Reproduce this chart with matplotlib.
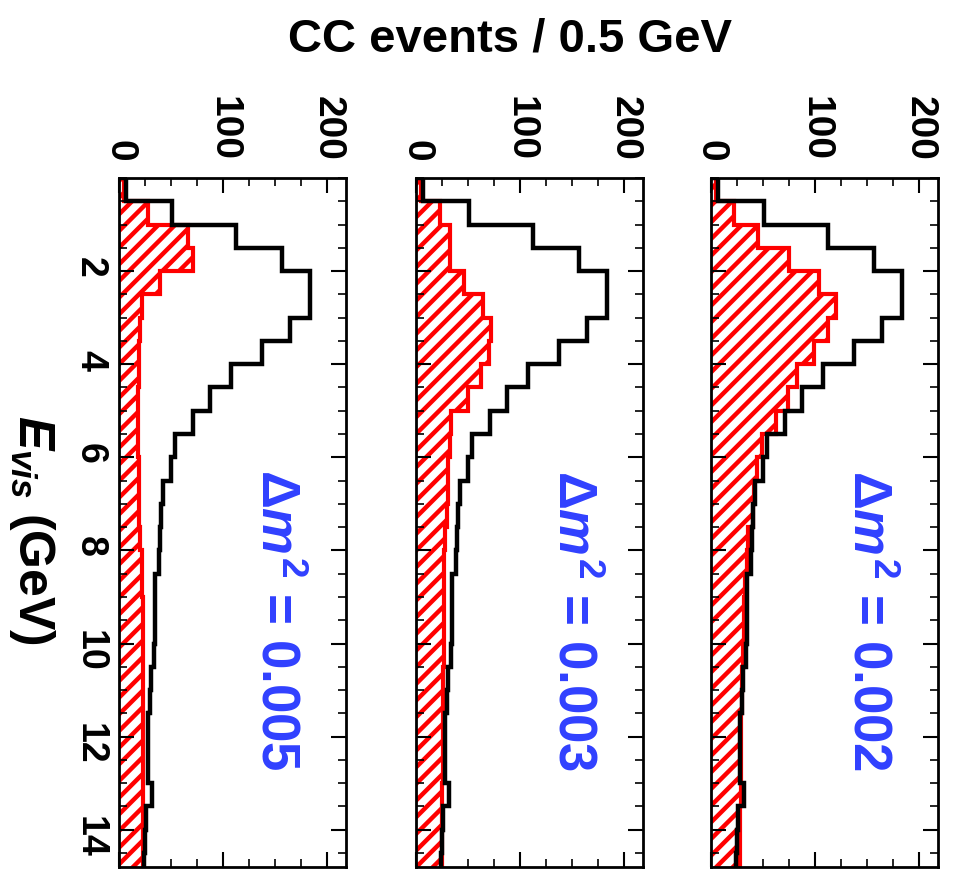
import numpy as np
import matplotlib
matplotlib.use('Agg')
import matplotlib.pyplot as plt
from matplotlib.ticker import MultipleLocator, FixedLocator

plt.rcParams['font.family'] = ['Liberation Sans', 'DejaVu Sans']
plt.rcParams['font.weight'] = 'bold'
plt.rcParams['mathtext.fontset'] = 'custom'
plt.rcParams['mathtext.rm'] = 'Liberation Sans:bold'
plt.rcParams['mathtext.it'] = 'Liberation Sans:bold:italic'
plt.rcParams['mathtext.bf'] = 'Liberation Sans:bold'
plt.rcParams['hatch.linewidth'] = 3.2

# visible energy bins, 0.5 GeV wide
e_edges = np.arange(0, 15.01, 0.5)

# expected CC events without oscillation
no_osc = [7, 51, 112, 157, 183, 183, 164, 137, 108, 87,
          71, 54, 50, 42, 40, 39, 38, 35, 35, 35,
          34, 31, 30, 28, 28, 28, 32, 26, 25, 24]

# expected CC events with oscillation, one list per dm^2
osc_005 = [5, 28, 66, 71, 39, 22, 20, 19, 19, 18,
           18, 18, 19, 19, 19, 20, 22, 22, 23, 23,
           23, 23, 23, 23, 23, 23, 23, 23, 23, 23]
osc_003 = [5, 23, 33, 33, 46, 64, 72, 70, 62, 50,
           34, 33, 31, 31, 30, 28, 27, 27, 27, 27,
           27, 26, 26, 26, 26, 26, 25, 25, 25, 25]
osc_002 = [5, 22, 45, 75, 104, 120, 112, 99, 83, 74,
           62, 49, 44, 41, 40, 36, 35, 33, 32, 32,
           31, 30, 30, 29, 29, 29, 29, 28, 28, 28]

panel_osc = [osc_005, osc_003, osc_002]
panel_dm2 = ['0.005', '0.003', '0.002']

fig = plt.figure(figsize=(9.63, 8.74), dpi=100)
W, H = 963, 874
lefts = [119, 416, 711]
width = 227
top, bottom = 178, 867

for i, (osc, dm2) in enumerate(zip(panel_osc, panel_dm2)):
    ax = fig.add_axes([lefts[i] / W, 1 - bottom / H, width / W, (bottom - top) / H])

    # oscillated spectrum: hatched fill plus red outline
    ax.stairs(osc, e_edges, orientation='horizontal', fill=True,
              facecolor='white', edgecolor='red', hatch='//', linewidth=0)
    ax.stairs(osc, e_edges, orientation='horizontal', color='red', lw=3)
    # unoscillated spectrum
    ax.stairs(no_osc, e_edges, orientation='horizontal', color='black', lw=3.2)

    ax.set_xlim(0, 218)
    ax.set_ylim(14.8, 0)

    ax.xaxis.set_major_locator(MultipleLocator(100))
    ax.xaxis.set_minor_locator(MultipleLocator(25))
    ax.yaxis.set_major_locator(FixedLocator([2, 4, 6, 8, 10, 12, 14]))
    ax.yaxis.set_minor_locator(MultipleLocator(0.5))

    ax.tick_params(axis='x', which='both', top=True, bottom=True,
                   labeltop=True, labelbottom=False, direction='in',
                   labelrotation=270, labelsize=28, pad=12)
    ax.tick_params(axis='y', which='both', left=True, right=True,
                   labelleft=(i == 0), direction='in',
                   labelrotation=270, labelsize=27, pad=8)
    ax.tick_params(which='major', length=11, width=1.5)
    ax.tick_params(which='minor', length=6, width=1.2)
    for s in ax.spines.values():
        s.set_linewidth(2)

    ax.text(150, 9.5, r'$\Delta m^2$ = ' + dm2, rotation=270,
            ha='center', va='center', fontsize=38, color='#3040ff')

fig.text(510 / W, 1 - 40 / H, 'CC events / 0.5 GeV', ha='center', va='center',
         fontsize=34)
fig.text(32 / W, 1 - 530 / H, r'$E_{vis}$ (GeV)', rotation=270,
         ha='center', va='center', fontsize=36)

fig.savefig('out.png', dpi=100)
